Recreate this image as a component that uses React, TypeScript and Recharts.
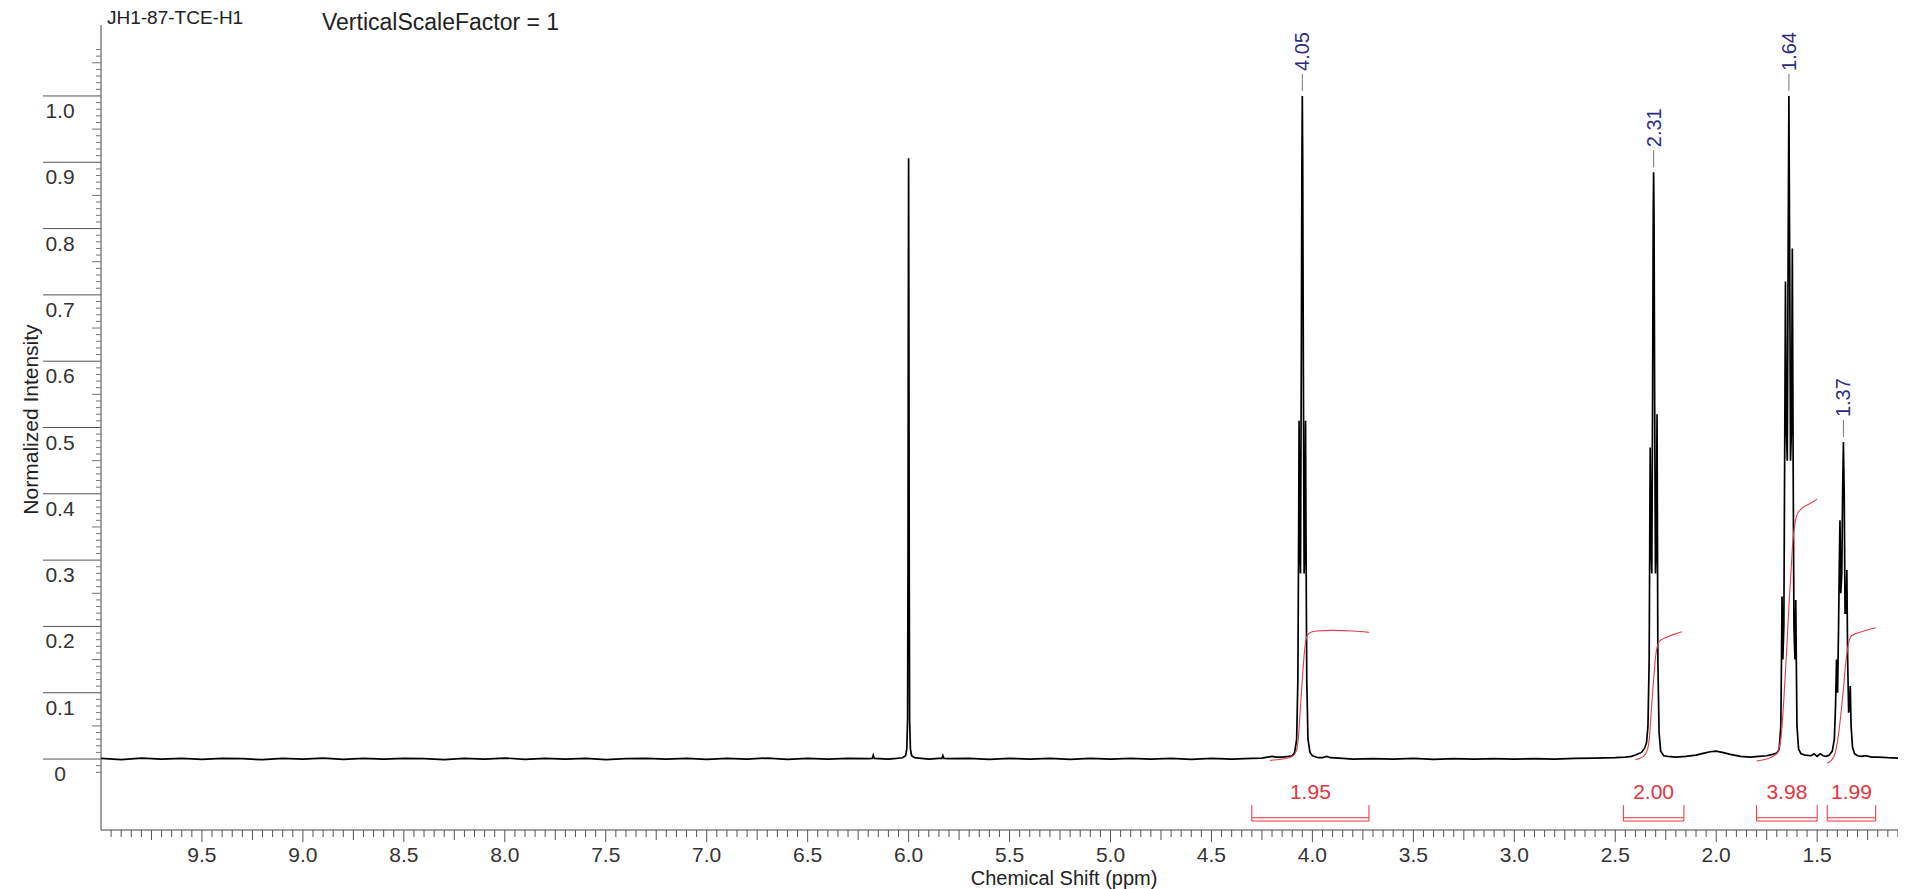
import React from 'react';
import { ComposedChart, Line, XAxis, YAxis, Scatter, ReferenceLine } from 'recharts';

const FONT = '"Liberation Sans", Arial, Helvetica, sans-serif';
const RED = '#e4343c';
const NAVY = '#2c2c88';

// ---- spectrum segments: [ppm, normalized intensity] ----
const baselineLeft: [number, number][] = [
  [10.0, 0.001], [9.9, -0.001], [9.8, 0.0015], [9.7, 0], [9.6, 0.001], [9.5, -0.0005], [9.4, 0.001], [9.3, 0.0005],
  [9.2, -0.001], [9.1, 0.001], [9.0, 0], [8.9, 0.0015], [8.8, -0.0005], [8.7, 0.001], [8.6, 0], [8.5, 0.001],
  [8.4, 0.0005], [8.3, -0.001], [8.2, 0.001], [8.1, 0], [8.0, 0.0015], [7.9, -0.0005], [7.8, 0.001], [7.7, 0],
  [7.6, 0.001], [7.5, -0.001], [7.4, 0.0005], [7.3, 0.001], [7.2, 0], [7.1, 0.001], [7.0, -0.0005], [6.9, 0.001],
  [6.8, 0], [6.7, 0.0015], [6.6, -0.0005], [6.5, 0.001], [6.4, 0], [6.3, 0.001], [6.2, 0.0005], [6.18, 0.001],
  [6.175, 0.006], [6.17, 0.001], [6.1, 0], [6.06, 0.001],
];
const peak600: [number, number][] = [
  [6.03, 0.002], [6.015, 0.005], [6.009, 0.015], [6.005, 0.06], [6.003, 0.3], [6.0015, 0.65], [6.0, 0.906],
  [5.9985, 0.65], [5.997, 0.3], [5.995, 0.06], [5.991, 0.015], [5.985, 0.005], [5.97, 0.002],
];
const baselineMid1: [number, number][] = [
  [5.95, 0.0015], [5.9, 0], [5.85, 0.001], [5.835, 0.001], [5.83, 0.005], [5.825, 0.001], [5.8, 0.0005], [5.7, 0.001],
  [5.6, -0.0005], [5.5, 0.001], [5.4, 0], [5.3, 0.001], [5.2, -0.0005], [5.1, 0.001], [5.0, 0], [4.9, 0.001],
  [4.8, 0], [4.7, 0.001], [4.6, -0.0005], [4.5, 0.001], [4.4, 0], [4.3, 0.001], [4.25, 0.0015], [4.2, 0.004],
  [4.18, 0.003], [4.15, 0.003], [4.12, 0.004],
];
const peak405: [number, number][] = [
  [4.1, 0.005], [4.088, 0.01], [4.078, 0.03], [4.072, 0.12], [4.068, 0.35], [4.066, 0.51], [4.063, 0.32], [4.059, 0.28],
  [4.055, 0.6], [4.052, 0.9], [4.05, 1.0], [4.048, 0.9], [4.045, 0.6], [4.041, 0.28], [4.037, 0.32], [4.034, 0.51],
  [4.032, 0.35], [4.028, 0.12], [4.022, 0.03], [4.012, 0.01], [4.0, 0.005],
];
const baselineMid2: [number, number][] = [
  [3.97, 0.002], [3.95, 0.002], [3.93, 0.004], [3.91, 0.002], [3.85, 0.001], [3.8, 0], [3.7, 0.0005], [3.6, 0],
  [3.5, 0.001], [3.4, -0.0005], [3.3, 0.0005], [3.2, 0], [3.1, 0.0005], [3.0, 0], [2.9, 0.0005], [2.8, 0],
  [2.7, 0.001], [2.6, 0.0015], [2.5, 0.002], [2.45, 0.003], [2.42, 0.004],
];
const peak231: [number, number][] = [
  [2.4, 0.006], [2.37, 0.01], [2.355, 0.016], [2.345, 0.025], [2.338, 0.05], [2.332, 0.15], [2.327, 0.47], [2.323, 0.32],
  [2.319, 0.28], [2.315, 0.55], [2.312, 0.82], [2.31, 0.885], [2.308, 0.82], [2.305, 0.55], [2.301, 0.28], [2.297, 0.32],
  [2.293, 0.52], [2.289, 0.15], [2.283, 0.04], [2.275, 0.012], [2.26, 0.005],
];
const baselineMid3: [number, number][] = [
  [2.24, 0.004], [2.2, 0.003], [2.15, 0.004], [2.1, 0.006], [2.06, 0.009], [2.03, 0.011], [2.0, 0.012], [1.97, 0.01],
  [1.93, 0.007], [1.88, 0.004], [1.83, 0.003], [1.79, 0.004], [1.75, 0.005], [1.72, 0.007],
];
const peak164: [number, number][] = [
  [1.7, 0.009], [1.688, 0.015], [1.68, 0.05], [1.677, 0.14], [1.674, 0.245], [1.67, 0.15], [1.665, 0.2], [1.661, 0.45],
  [1.657, 0.72], [1.653, 0.5], [1.648, 0.45], [1.644, 0.75], [1.64, 1.0], [1.636, 0.75], [1.632, 0.45], [1.627, 0.5],
  [1.623, 0.77], [1.619, 0.45], [1.615, 0.2], [1.61, 0.15], [1.606, 0.24], [1.603, 0.14], [1.6, 0.05], [1.592, 0.015],
  [1.58, 0.008],
];
const baselineMid4: [number, number][] = [
  [1.56, 0.006], [1.53, 0.005], [1.515, 0.008], [1.5, 0.004], [1.485, 0.008], [1.47, 0.005], [1.455, 0.004],
];
const peak137: [number, number][] = [
  [1.44, 0.006], [1.425, 0.012], [1.415, 0.03], [1.409, 0.08], [1.404, 0.15], [1.399, 0.1], [1.394, 0.2], [1.39, 0.3],
  [1.387, 0.36], [1.383, 0.25], [1.378, 0.28], [1.374, 0.4], [1.37, 0.478], [1.366, 0.4], [1.362, 0.22], [1.357, 0.22],
  [1.353, 0.285], [1.349, 0.15], [1.344, 0.07], [1.34, 0.08], [1.336, 0.11], [1.332, 0.05], [1.325, 0.018], [1.315, 0.008],
  [1.3, 0.005],
];
const baselineRight: [number, number][] = [
  [1.28, 0.004], [1.26, 0.005], [1.23, 0.003], [1.2, 0.003], [1.15, 0.002], [1.1, 0.0015], [1.06, 0.001],
];

// ---- integral curves ----
const integral1: [number, number][] = [
  [4.21, -0.002], [4.15, 0], [4.1, 0.004], [4.08, 0.012], [4.07, 0.03], [4.06, 0.075], [4.05, 0.12], [4.04, 0.16],
  [4.033, 0.178], [4.025, 0.187], [4.01, 0.191], [3.98, 0.193], [3.9, 0.194], [3.8, 0.193], [3.72, 0.191],
];
const integral2: [number, number][] = [
  [2.4, -0.001], [2.36, 0.004], [2.34, 0.015], [2.33, 0.035], [2.32, 0.08], [2.31, 0.12], [2.3, 0.155], [2.29, 0.172],
  [2.28, 0.178], [2.25, 0.183], [2.21, 0.188], [2.17, 0.192],
];
const integral3: [number, number][] = [
  [1.8, -0.003], [1.75, 0], [1.7, 0.008], [1.68, 0.03], [1.665, 0.09], [1.65, 0.17], [1.64, 0.23], [1.63, 0.28],
  [1.62, 0.33], [1.61, 0.355], [1.6, 0.368], [1.58, 0.377], [1.55, 0.383], [1.52, 0.388], [1.5, 0.392],
];
const integral4: [number, number][] = [
  [1.45, -0.006], [1.43, -0.002], [1.41, 0.01], [1.395, 0.035], [1.38, 0.075], [1.37, 0.105], [1.36, 0.14], [1.35, 0.165],
  [1.34, 0.18], [1.33, 0.186], [1.3, 0.19], [1.26, 0.194], [1.21, 0.198],
];

// ---- peak picks ----
const peakShifts = [4.05, 2.31, 1.64, 1.37];
const peakHeights = [1.0, 0.885, 1.0, 0.478];
const peakLabels = ['4.05', '2.31', '1.64', '1.37'];

// ---- integration ranges ----
const integralFrom = [4.3, 2.46, 1.8, 1.45];
const integralTo = [3.72, 2.16, 1.5, 1.21];
const integralValues = ['1.95', '2.00', '3.98', '1.99'];

// ---- axis ticks ----
const xMajorLabels = ['9.5', '9.0', '8.5', '8.0', '7.5', '7.0', '6.5', '6.0', '5.5', '5.0', '4.5', '4.0', '3.5', '3.0', '2.5', '2.0', '1.5'];
const yMajorLabels = ['0', '0.1', '0.2', '0.3', '0.4', '0.5', '0.6', '0.7', '0.8', '0.9', '1.0'];

const X_DOMAIN: [number, number] = [1.06, 10.0];
const Y_DOMAIN: [number, number] = [-0.107, 1.107];
const BRACKET_TOP = -0.0694;
const BRACKET_L1 = -0.0885;
const BRACKET_L2 = -0.0935;
const INTEGRAL_LABEL_Y = -0.05;

const toPts = (arr: [number, number][]) => arr.map(([ppm, y]) => ({ ppm, y }));
const spectrum = toPts([
  ...baselineLeft, ...peak600, ...baselineMid1, ...peak405, ...baselineMid2, ...peak231,
  ...baselineMid3, ...peak164, ...baselineMid4, ...peak137, ...baselineRight,
]);
const integrals = [integral1, integral2, integral3, integral4].map(toPts);
const peakData = peakShifts.map((ppm, i) => ({ ppm, y: peakHeights[i], label: peakLabels[i] }));
const integralLabelData = integralFrom.map((f, i) => ({ ppm: (f + integralTo[i]) / 2, y: INTEGRAL_LABEL_Y, label: integralValues[i] }));

const xTicks: number[] = [];
for (let k = 995; k >= 110; k -= 5) xTicks.push(k / 100);
const yTicks: number[] = [];
for (let k = -2; k <= 107; k += 1) yTicks.push(k / 100);

const XTick = (props: any) => {
  const { x, y, payload } = props;
  const k = Math.round(payload.value * 100);
  const major = k % 50 === 0;
  const mid = k % 25 === 0;
  const len = major ? 12 : mid ? 10 : 7;
  const lbl = xMajorLabels.find((s) => Math.round(parseFloat(s) * 100) === k);
  return (
    <g>
      <line x1={x} y1={y} x2={x} y2={y + len} stroke="#555" strokeWidth={1} />
      {major && lbl && (
        <text x={x} y={y + 32} textAnchor="middle" fontSize={21} fontFamily={FONT} fill="#333">{lbl}</text>
      )}
    </g>
  );
};

const YTick = (props: any) => {
  const { x, y, payload } = props;
  const k = Math.round(payload.value * 100);
  if (k % 10 === 0 && k >= 0) {
    const lbl = yMajorLabels[k / 10];
    return (
      <g>
        <line x1={x - 58} y1={y} x2={x} y2={y} stroke="#555" strokeWidth={1} />
        <text x={x - 41} y={y + 22} textAnchor="middle" fontSize={21} fontFamily={FONT} fill="#333">{lbl}</text>
      </g>
    );
  }
  const len = k % 5 === 0 ? 9 : 5;
  return <line x1={x - len} y1={y} x2={x} y2={y} stroke="#777" strokeWidth={1} />;
};

const PeakLabel = (props: any) => {
  const { cx, cy, payload } = props;
  if (cx == null || cy == null) return null;
  return (
    <g>
      <line x1={cx} y1={cy - 5} x2={cx} y2={cy - 22} stroke="#777" strokeWidth={1} />
      <text transform={`translate(${cx + 7},${cy - 25}) rotate(-90)`} fontSize={20} fontFamily={FONT} fill={NAVY}>
        {payload.label}
      </text>
    </g>
  );
};

const IntegralLabel = (props: any) => {
  const { cx, cy, payload } = props;
  if (cx == null || cy == null) return null;
  return (
    <text x={cx} y={cy + 7} textAnchor="middle" fontSize={21} fontFamily={FONT} fill={RED}>{payload.label}</text>
  );
};

const XTitle = (props: any) => {
  const vb = props.viewBox || {};
  const frac = (X_DOMAIN[1] - 5.23) / (X_DOMAIN[1] - X_DOMAIN[0]);
  return (
    <text x={vb.x + vb.width * frac} y={vb.y + 54.5} textAnchor="middle" fontSize={20} fontFamily={FONT} fill="#222">
      Chemical Shift (ppm)
    </text>
  );
};

const YTitle = (props: any) => {
  const vb = props.viewBox || {};
  const cx = vb.x + 22;
  const cy = vb.y + vb.height / 2 - 8;
  return (
    <text transform={`translate(${cx},${cy}) rotate(-90)`} textAnchor="middle" dominantBaseline="central" fontSize={21} fontFamily={FONT} fill="#222">
      Normalized Intensity
    </text>
  );
};

export default function App() {
  return (
    <div style={{ position: 'relative', width: 1898, height: 881, background: '#fff' }}>
      <style>{'body{overflow:hidden;background:#fff}'}</style>
      <ComposedChart width={1898} height={881} margin={{ top: 17, right: 0, bottom: 0, left: 0 }}>
        <XAxis
          type="number"
          dataKey="ppm"
          domain={X_DOMAIN}
          reversed
          allowDataOverflow
          ticks={xTicks}
          interval={0}
          tick={<XTick />}
          tickLine={false}
          tickSize={0}
          tickMargin={0}
          height={59}
          axisLine={{ stroke: '#444', strokeWidth: 1 }}
          label={<XTitle />}
        />
        <YAxis
          type="number"
          domain={Y_DOMAIN}
          allowDataOverflow
          ticks={yTicks}
          interval={0}
          tick={<YTick />}
          tickLine={false}
          tickSize={0}
          tickMargin={0}
          width={93}
          axisLine={{ stroke: '#444', strokeWidth: 1 }}
          label={<YTitle />}
        />
        {integralFrom.map((f, i) => (
          <ReferenceLine key={`b1${i}`} segment={[{ x: f, y: BRACKET_L1 }, { x: integralTo[i], y: BRACKET_L1 }]} stroke={RED} strokeWidth={1} />
        ))}
        {integralFrom.map((f, i) => (
          <ReferenceLine key={`b2${i}`} segment={[{ x: f, y: BRACKET_L2 }, { x: integralTo[i], y: BRACKET_L2 }]} stroke={RED} strokeWidth={1} />
        ))}
        {integralFrom.map((f, i) => (
          <ReferenceLine key={`bl${i}`} segment={[{ x: f, y: BRACKET_TOP }, { x: f, y: BRACKET_L2 }]} stroke={RED} strokeWidth={1} />
        ))}
        {integralFrom.map((f, i) => (
          <ReferenceLine key={`br${i}`} segment={[{ x: integralTo[i], y: BRACKET_TOP }, { x: integralTo[i], y: BRACKET_L2 }]} stroke={RED} strokeWidth={1} />
        ))}
        <Line data={spectrum} dataKey="y" type="linear" dot={false} stroke="#000" strokeWidth={1.7} isAnimationActive={false} />
        {integrals.map((d, i) => (
          <Line key={`int${i}`} data={d} dataKey="y" type="monotone" dot={false} stroke="#e0404a" strokeWidth={1.1} isAnimationActive={false} />
        ))}
        <Scatter data={peakData} dataKey="y" shape={<PeakLabel />} isAnimationActive={false} />
        <Scatter data={integralLabelData} dataKey="y" shape={<IntegralLabel />} isAnimationActive={false} />
      </ComposedChart>
      <div style={{ position: 'absolute', left: 99, top: 0, fontFamily: FONT, fontSize: 19, lineHeight: '20px', color: '#222', whiteSpace: 'nowrap' }}>
        JH1-87-TCE-H1
      </div>
      <div style={{ position: 'absolute', left: 314, top: 2, fontFamily: FONT, fontSize: 23, lineHeight: '24px', color: '#222', whiteSpace: 'nowrap' }}>
        VerticalScaleFactor = 1
      </div>
    </div>
  );
}
